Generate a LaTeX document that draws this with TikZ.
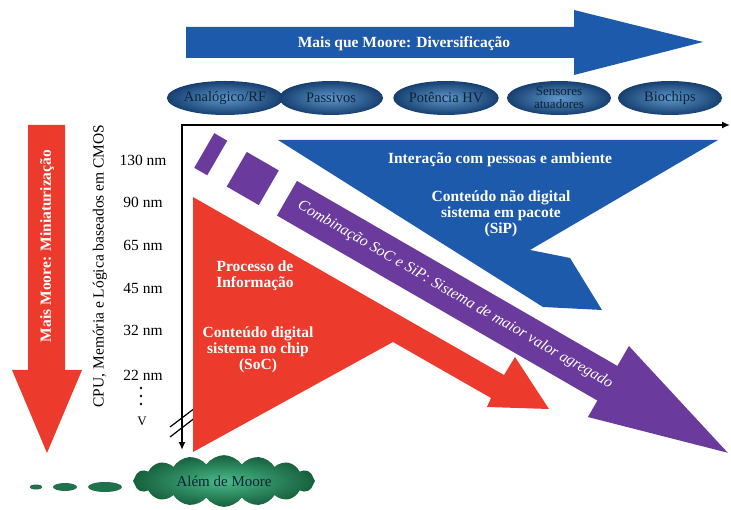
\documentclass[tikz,border=0pt]{standalone}
\usepackage{fontspec}
\setmainfont{Liberation Serif}
\usetikzlibrary{arrows.meta,shapes.geometric,shapes.symbols}
\definecolor{moreBlue}{HTML}{1E5AAC}
\definecolor{moreRed}{HTML}{EC3A2C}
\definecolor{morePurple}{HTML}{6A3B9C}
\definecolor{techIn}{HTML}{5E97CA}
\definecolor{techOut}{HTML}{163F70}
\definecolor{techText}{HTML}{0E2238}
\definecolor{beyondIn}{HTML}{48BA88}
\definecolor{beyondOut}{HTML}{17603D}
\newcommand{\lblfont}{\fontsize{15.5}{16}\selectfont}

\begin{document}
\begin{tikzpicture}[x=1pt,y=-1pt,
	lbl/.style={font=\lblfont, align=center, inner sep=0},
	wlbl/.style={lbl, text=white, font=\lblfont\bfseries},
	tech/.style={ellipse, shade, inner color=techIn, outer color=techOut,
		minimum width=104pt, minimum height=34pt, inner sep=0, text=techText,
		align=center, font=\fontsize{14.5}{13}\selectfont},
	axis/.style={line width=1.6pt, {Latex[length=8pt,width=7pt]}-{Latex[length=8pt,width=7pt]}}]
	\useasboundingbox (0,0) rectangle (731,510);
	% diversification arrow and its fields
	\fill[moreBlue] (186,27) -- (574,27) -- (574,10) -- (703,42) -- (574,75) -- (574,58) -- (186,58) -- cycle;
	\node[wlbl] (diver) at (404,44) {Mais que Moore: Diversificação};
	\node[tech] (analog) at (225,98) {Analógico/RF};
	\node[tech] (passive) at (331,98) {Passivos};
	\node[tech] (power) at (446,98) {Potência HV};
	\node[tech] (sensor) at (559,98) {\fontsize{13}{12}\selectfont Sensores\\\fontsize{13}{12}\selectfont atuadores};
	\node[tech] (biochip) at (670,98) {Biochips};
	% miniaturization arrow
	\fill[moreRed] (28,125) -- (65,125) -- (65,370) -- (82,370) -- (47,453) -- (12,370) -- (28,370) -- cycle;
	\node[wlbl, rotate=90] (mini) at (47,246) {Mais Moore: Miniaturização};
	% axes
	\coordinate (orig) at (182,125);
	\coordinate (xend) at (730,125);
	\coordinate (yend) at (182,450);
	\draw[axis] (yend) |- (xend);
	\draw[line width=1.2pt] (170,427) -- (195,408);
	\draw[line width=1.2pt] (170,437) -- (196,417);
	\node[lbl, rotate=90] (cmos) at (100,266) {CPU, Memória e Lógica baseados em CMOS};
	\node[lbl] (n130) at (143,160) {130 nm};
	\node[lbl] (n90) at (143,202) {90 nm};
	\node[lbl] (n65) at (143,245) {65 nm};
	\node[lbl] (n45) at (143,288) {45 nm};
	\node[lbl] (n32) at (143,330) {32 nm};
	\node[lbl] (n22) at (143,375) {22 nm};
	\fill (141,388) circle (1.4) (141,396) circle (1.4) (141,404) circle (1.4);
	\node[lbl, font=\fontsize{13}{13}\selectfont] (nv) at (142,421) {V};
	% non digital content
	\fill[moreBlue] (278,140) -- (718,140) -- (530,250) -- (570,258) -- (602,310) -- (543,307) -- cycle;
	\node[wlbl] (people) at (500,160) {Interação com pessoas e ambiente};
	\node[wlbl] (sip) at (501,214) {Conteúdo não digital\\sistema em pacote\\(SiP)};
	% digital content
	\fill[moreRed] (193,197) -- (504,375) -- (515,357) -- (549,409) -- (487,407) -- (491,398) -- (393,342) -- (193,452) -- cycle;
	\node[wlbl] (info) at (255,276) {Processo de\\Informação};
	\node[wlbl] (soc) at (258,350) {Conteúdo digital\\sistema no chip\\(SoC)};
	% combined SoC and SiP band
	\begin{scope}[shift={(210.75,154.25)}, rotate=-30]
		\fill[morePurple] (-7.5,-20) rectangle (7.5,20);
		\fill[morePurple] (30,-20) rectangle (67,20);
		\fill[morePurple] (88,-20) -- (458,-20) -- (458,-43) -- (597,0) -- (458,39) -- (458,20) -- (88,20) -- cycle;
	\end{scope}
	\node[lbl, text=white, font=\lblfont\itshape, rotate=-30] (combo) at (455,295) {Combinação SoC e SiP: Sistema de maior valor agregado};
	% beyond Moore
	\node[cloud, cloud puffs=16, cloud puff arc=110, aspect=3.8, minimum width=182pt, minimum height=48pt,
		shade, inner color=beyondIn, outer color=beyondOut, text=techText, font=\fontsize{15}{15}\selectfont] (beyond) at (224,481) {Além de Moore};
	\node[ellipse, fill=beyondOut!80!beyondIn, minimum width=34pt, minimum height=10pt, inner sep=0] (dot3) at (105,487) {};
	\node[ellipse, fill=beyondOut!80!beyondIn, minimum width=24pt, minimum height=8pt, inner sep=0] (dot2) at (65,487) {};
	\node[ellipse, fill=beyondOut!80!beyondIn, minimum width=13pt, minimum height=5pt, inner sep=0] (dot1) at (36,487) {};
\end{tikzpicture}
\end{document}
